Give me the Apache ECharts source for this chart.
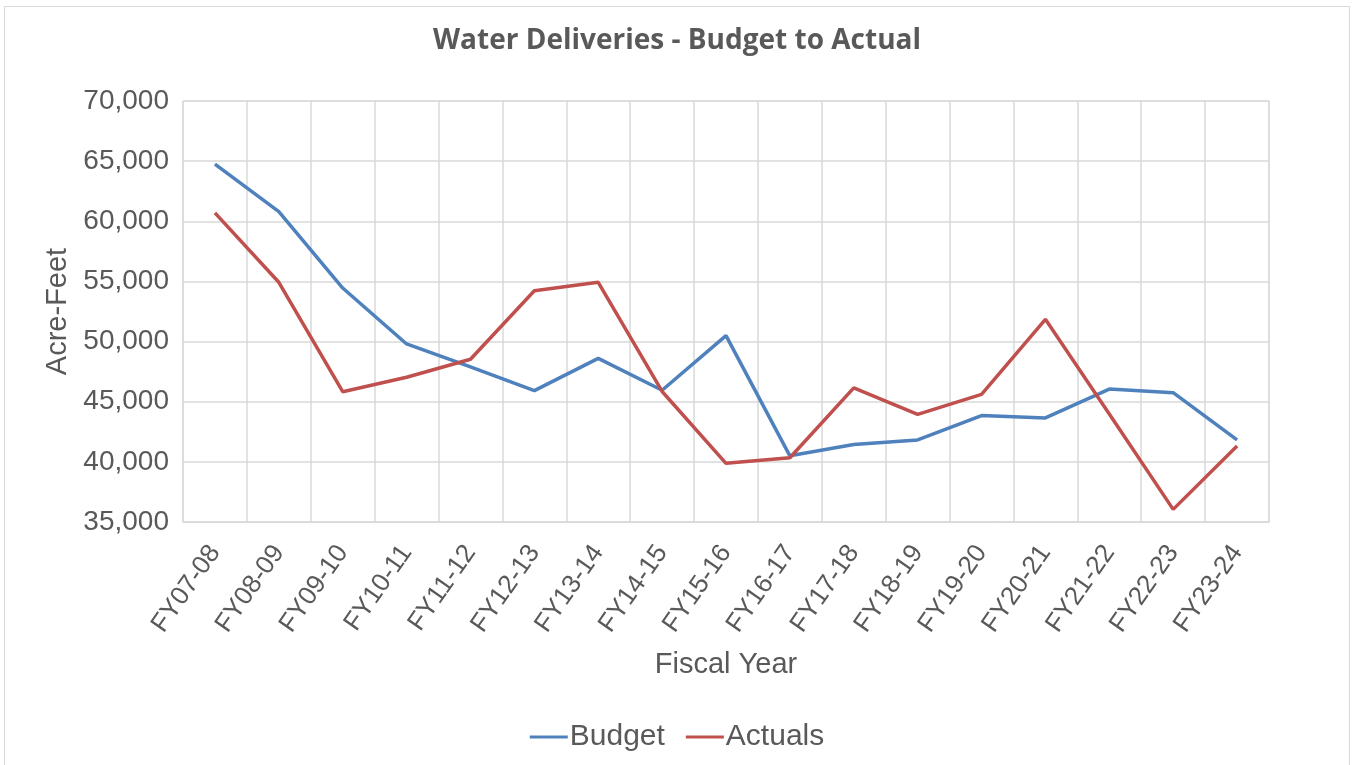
<!DOCTYPE html>
<html>
<head>
<meta charset="utf-8">
<script src="https://cdn.jsdelivr.net/npm/echarts@6/dist/echarts.min.js"></script>
<style>
  html, body { margin: 0; padding: 0; background: #fff; }
  #frame { position: absolute; left: 4px; top: 6px; width: 1346px; height: 770px; border: 1px solid #d9d9d9; box-sizing: border-box; }
  #chart { width: 1354px; height: 765px; }
</style>
</head>
<body>
<div id="frame"></div>
<div id="chart"></div>
<script>
// fiscal years on the x axis
const years = ['FY07-08', 'FY08-09', 'FY09-10', 'FY10-11', 'FY11-12', 'FY12-13', 'FY13-14', 'FY14-15',
  'FY15-16', 'FY16-17', 'FY17-18', 'FY18-19', 'FY19-20', 'FY20-21', 'FY21-22', 'FY22-23', 'FY23-24'];

// acre-feet
const budget = [64750, 60800, 54450, 49800, 47900, 45920, 48600, 45950, 50500, 40500,
  41450, 41820, 43850, 43650, 46050, 45750, 41820];
const actuals = [60700, 54930, 45830, 47030, 48530, 54230, 54930, 45850, 39880, 40340,
  46150, 43950, 45610, 51850, 43980, 36050, 41320];

const textColor = '#595959';
const gridColor = '#d9d9d9';

const chart = echarts.init(document.getElementById('chart'));
chart.setOption({
  animation: false,
  title: {
    text: 'Water Deliveries - Budget to Actual',
    left: 'center',
    top: 22,
    textStyle: { fontFamily: 'Open Sans', fontWeight: 'bold', fontSize: 28, color: textColor }
  },
  grid: {
    left: 183, right: 85, top: 101, bottom: 243,
    show: true, borderColor: gridColor, borderWidth: 1
  },
  legend: {
    bottom: 8,
    left: 'center',
    itemWidth: 38,
    itemHeight: 3,
    itemGap: 21,
    icon: 'rect',
    textStyle: { fontFamily: 'Liberation Sans', fontSize: 30, color: textColor, padding: [0, 0, 0, -3] },
    data: ['Budget', 'Actuals']
  },
  xAxis: {
    type: 'category',
    data: years,
    boundaryGap: true,
    name: 'Fiscal Year',
    nameLocation: 'middle',
    nameGap: 128,
    nameTextStyle: { fontFamily: 'Liberation Sans', fontSize: 29, color: textColor },
    axisLine: { lineStyle: { color: gridColor } },
    axisTick: { show: false },
    splitLine: { show: true, lineStyle: { color: gridColor, width: 1.5 } },
    axisLabel: {
      rotate: 55,
      margin: 26,
      interval: 0,
      fontFamily: 'Liberation Sans',
      fontSize: 26,
      color: textColor
    }
  },
  yAxis: {
    type: 'value',
    min: 35000,
    max: 70000,
    interval: 5000,
    name: 'Acre-Feet',
    nameLocation: 'middle',
    nameGap: 108,
    nameTextStyle: { fontFamily: 'Liberation Sans', fontSize: 29, color: textColor },
    axisLine: { show: false },
    axisTick: { show: false },
    splitLine: { lineStyle: { color: gridColor, width: 1.5 } },
    axisLabel: {
      margin: 14,
      fontFamily: 'Liberation Sans',
      fontSize: 28,
      color: textColor,
      formatter: v => v.toLocaleString('en-US')
    }
  },
  series: [
    {
      name: 'Budget',
      type: 'line',
      data: budget,
      symbol: 'none',
      lineStyle: { color: '#4f81bd', width: 3.5 },
      itemStyle: { color: '#4f81bd' }
    },
    {
      name: 'Actuals',
      type: 'line',
      data: actuals,
      symbol: 'none',
      lineStyle: { color: '#c0504d', width: 3.5 },
      itemStyle: { color: '#c0504d' }
    }
  ]
});
</script>
</body>
</html>
